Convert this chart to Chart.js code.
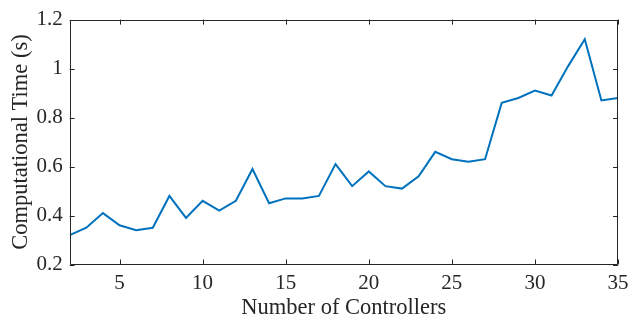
<!DOCTYPE html>
<html>
<head>
<meta charset="utf-8">
<script src="https://cdn.jsdelivr.net/npm/chart.js@4.4.0/dist/chart.umd.min.js"></script>
<style>
  html, body { margin: 0; padding: 0; background: #fff; }
  #wrap { width: 644px; height: 323px; }
</style>
</head>
<body>
<div id="wrap"><canvas id="c" width="644" height="323"></canvas></div>
<script>
// Number of controllers vs. computational time
const controllers = [2,3,4,5,6,7,8,9,10,11,12,13,14,15,16,17,18,19,20,21,22,23,24,25,26,27,28,29,30,31,32,33,34,35];
const compTime = [0.32,0.35,0.41,0.36,0.34,0.35,0.48,0.39,0.46,0.42,0.46,0.59,0.45,0.47,0.47,0.48,0.61,0.52,0.58,0.52,0.51,0.56,0.66,0.63,0.62,0.63,0.86,0.88,0.91,0.89,1.01,1.12,0.87,0.88];
const xTicks = [5,10,15,20,25,30,35];
const yTicks = [0.2,0.4,0.6,0.8,1.0,1.2];

const axisColor = '#262626';
const fontFamily = '"Liberation Serif", "Times New Roman", serif';

// Box around the plot with inward tick marks on all four sides
const boxTicks = {
  id: 'boxTicks',
  afterDatasetsDraw(chart) {
    const { ctx, chartArea: a, scales: { x, y } } = chart;
    const len = 5;
    ctx.save();
    ctx.strokeStyle = axisColor;
    ctx.lineWidth = 1;
    ctx.beginPath();
    ctx.rect(Math.round(a.left) + 0.5, Math.round(a.top) + 0.5,
             Math.round(a.right) - Math.round(a.left) - 1, Math.round(a.bottom) - Math.round(a.top) - 1);
    x.ticks.forEach(t => {
      const px = Math.round(x.getPixelForValue(t.value)) + 0.5;
      ctx.moveTo(px, a.bottom); ctx.lineTo(px, a.bottom - len);
      ctx.moveTo(px, a.top); ctx.lineTo(px, a.top + len);
    });
    y.ticks.forEach(t => {
      const py = Math.round(y.getPixelForValue(t.value)) + 0.5;
      ctx.moveTo(a.left, py); ctx.lineTo(a.left + len, py);
      ctx.moveTo(a.right, py); ctx.lineTo(a.right - len, py);
    });
    ctx.stroke();
    ctx.restore();
  }
};

new Chart(document.getElementById('c'), {
  type: 'line',
  data: {
    datasets: [{
      data: controllers.map((c, i) => ({ x: c, y: compTime[i] })),
      borderColor: '#0072BD',
      borderWidth: 2,
      pointRadius: 0,
      tension: 0,
      fill: false
    }]
  },
  options: {
    responsive: false,
    animation: false,
    events: [],
    layout: { padding: { left: 0, right: 26, top: 11, bottom: 0 } },
    plugins: { legend: { display: false }, tooltip: { enabled: false } },
    scales: {
      x: {
        type: 'linear',
        min: 2, max: 35,
        afterBuildTicks: s => { s.ticks = xTicks.map(v => ({ value: v })); },
        afterFit: s => { s.height = 58.5; },
        grid: { display: false, drawTicks: false },
        border: { display: false },
        ticks: {
          color: axisColor, padding: 6, maxRotation: 0, autoSkip: false,
          font: { family: fontFamily, size: 21 },
          callback: v => String(v)
        },
        title: {
          display: true, text: 'Number of Controllers', color: axisColor,
          font: { family: fontFamily, size: 22.5 }, padding: { top: 0, bottom: 1 }
        }
      },
      y: {
        min: 0.2, max: 1.2,
        afterBuildTicks: s => { s.ticks = yTicks.map(v => ({ value: v })); },
        afterFit: s => { s.width = 69.7; },
        grid: { display: false, drawTicks: false },
        border: { display: false },
        ticks: {
          color: axisColor, padding: 7, autoSkip: false,
          font: { family: fontFamily, size: 21 },
          callback: v => String(Math.round(v * 10) / 10)
        },
        title: {
          display: true, text: 'Computational Time (s)', color: axisColor,
          font: { family: fontFamily, size: 22.5 }, padding: { top: 7.5, bottom: 0 }
        }
      }
    }
  },
  plugins: [boxTicks]
});
</script>
</body>
</html>
